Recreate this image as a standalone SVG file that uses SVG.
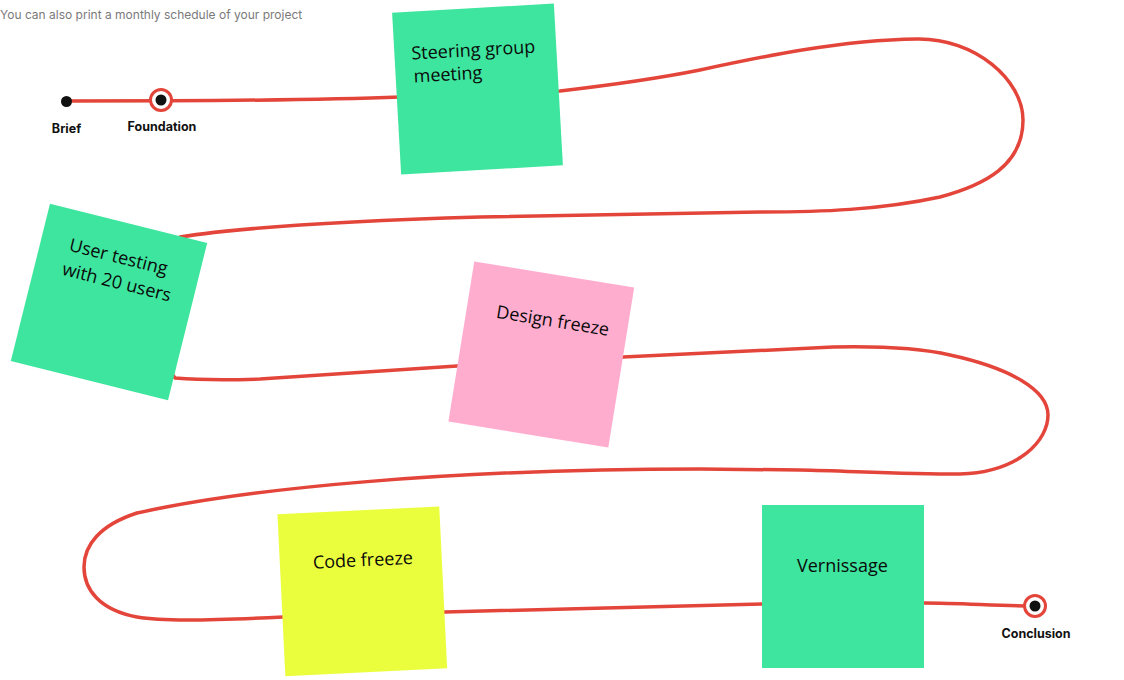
<svg xmlns="http://www.w3.org/2000/svg" width="1124" height="680" viewBox="0 0 1124 680">
<style>
.note text{font-family:"Open Sans","Noto Sans",sans-serif;font-size:18px;fill:#0a0a0a}
.lbl{font-family:Inter,"Liberation Sans",sans-serif;font-size:12.5px;font-weight:700;fill:#111;text-anchor:middle}
.green{fill:#3de59e}
.ring{fill:#fff;stroke:#e4453a;stroke-width:3}
.dot{fill:#111}
</style>
<rect width="1124" height="680" fill="#fff"/>
<text x="0" y="19" font-family="Inter,'Liberation Sans',sans-serif" font-size="12" fill="#7a7a7a">You can also print a monthly schedule of your project</text>
<g id="connectors">
<path d="M66,101 C150,101 300,101 400,97 L560,91 C620,84 660,78 700,70 C760,57 840,40 917,39 C975,38 1023,80 1023,120 C1023,165 985,185 940,197 C880,210 820,212 760,212 L480,217 C380,220 250,226 180,237 L120,300 L175,378 C200,380 230,380 260,379 L457,366 L623,357 L833,347 C880,346 920,348 950,355 C1010,368 1048,390 1048,415 C1048,440 1020,472 960,474 C900,474 850,471 800,470 L700,469 C450,469 250,488 137,513 C100,525 84,545 84,567 C84,590 100,610 137,617 C160,621 200,621 283,617 L445,612 L762,604 L924,603 C960,603 1000,606 1035,606" fill="none" stroke="#e4453a" stroke-width="3.5" stroke-linejoin="round"/>
</g>
<g id="brief">
<circle cx="66.5" cy="101.5" r="5.5" class="dot"/>
<text x="66.5" y="133" class="lbl">Brief</text>
</g>
<g id="foundation">
<circle cx="161" cy="100" r="10.5" class="ring"/>
<circle cx="161" cy="100" r="5.5" class="dot"/>
<text x="162" y="131" class="lbl">Foundation</text>
</g>
<g id="conclusion">
<circle cx="1035" cy="606" r="10.5" class="ring"/>
<circle cx="1035" cy="606" r="5.5" class="dot"/>
<text x="1036" y="638" class="lbl">Conclusion</text>
</g>
<g id="steering" class="note" transform="translate(477.5,89) rotate(-3.2)">
<rect x="-81" y="-81" width="162" height="162" class="green"/>
<text x="-64" y="-33">Steering group</text>
<text x="-63" y="-10">meeting</text>
</g>
<g id="usertesting" class="note" transform="translate(109,302) rotate(14)">
<rect x="-81" y="-81" width="162" height="162" class="green"/>
<text x="-52" y="-40">User testing</text>
<text x="-53" y="-15">with 20 users</text>
</g>
<g id="designfreeze" class="note" transform="translate(541.3,354.5) rotate(9.2)">
<rect x="-81" y="-81" width="162" height="162" fill="#ffadcf"/>
<text x="-51" y="-29">Design freeze</text>
</g>
<g id="codefreeze" class="note" transform="translate(362.3,591.3) rotate(-2.8)">
<rect x="-81" y="-81" width="162" height="162" fill="#ebfe3e"/>
<text x="-48" y="-25">Code freeze</text>
</g>
<g id="vernissage" class="note" transform="translate(843,586.5)">
<rect x="-81" y="-81.5" width="162" height="163" class="green"/>
<text x="-46" y="-14.5">Vernissage</text>
</g>
</svg>
